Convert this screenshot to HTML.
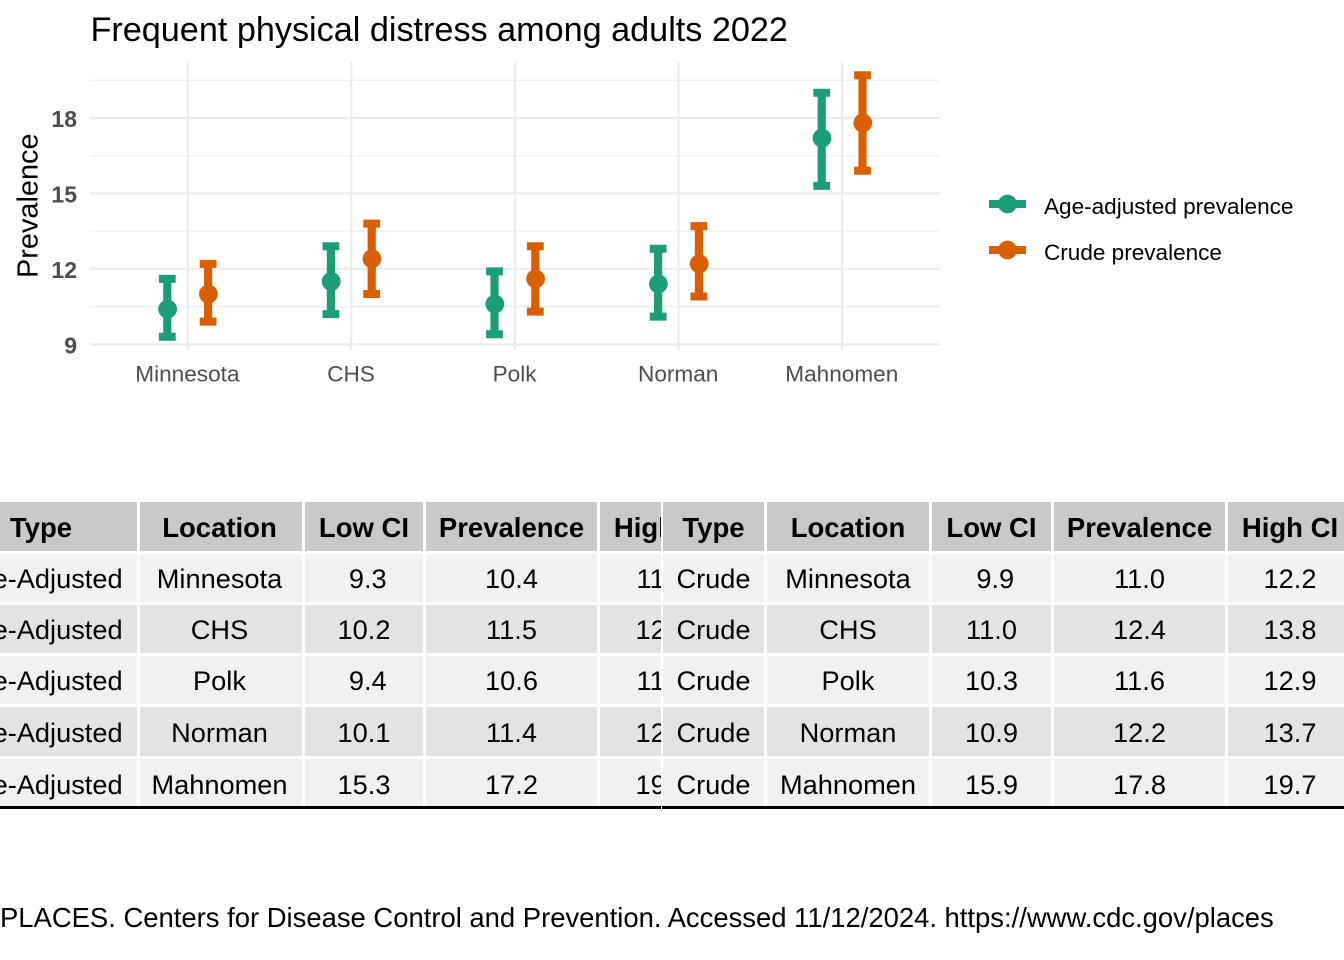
<!DOCTYPE html>
<html lang="en">
<head>
<meta charset="utf-8">
<title>Frequent physical distress among adults 2022</title>
<style>
html,body{margin:0;padding:0;background:#fff;}
body{width:1344px;height:960px;position:relative;overflow:hidden;font-family:"Liberation Sans",sans-serif;}
#chart{position:absolute;left:0;top:0;}
.clip{position:absolute;top:499px;height:307px;overflow:hidden;}
table{position:absolute;top:0;border-collapse:separate;border-spacing:3px;table-layout:fixed;font-size:27.2px;color:#000;}
th,td{padding:2px 0 0 0;text-align:center;white-space:pre;overflow:hidden;line-height:1;}
th{background:#c9c9c9;font-weight:bold;font-size:27.5px;padding-top:3px;}
tr.odd td{background:#f1f1f1;}
tr.even td{background:#e3e3e3;}
tr.h0{height:49px;}tr.h1,tr.h2,tr.h3{height:48px;}tr.h4{height:49px;}tr.h5{height:47px;}
tr.h5 td{padding-top:4px;}
th:nth-child(5),td:nth-child(5){padding-right:2px;}
.left th:nth-child(2),.left td:nth-child(2){padding-right:3px;}
.rule{position:absolute;top:806px;height:3px;background:#000;}
#source{position:absolute;left:0;top:902px;font-size:27.43px;line-height:31px;white-space:nowrap;color:#000;}
</style>
</head>
<body>
<svg id="chart" width="1344" height="460" viewBox="0 0 1344 460" xmlns="http://www.w3.org/2000/svg">
  <text x="90.5" y="41" font-size="34.2" font-family="Liberation Sans, sans-serif" fill="#000">Frequent physical distress among adults 2022</text>
  <text transform="translate(37.5,278) rotate(-90)" font-size="28.9" font-family="Liberation Sans, sans-serif" fill="#000">Prevalence</text>
  <g id="grid"></g>
  <g id="axes"></g>
  <g id="marks"></g>
  <g>
    <g>
      <rect x="989" y="200" width="37" height="8" fill="#1b9e77"></rect>
      <circle cx="1007.5" cy="204" r="9.4" fill="#1b9e77"></circle>
      <text x="1044" y="214" font-size="22.55" font-family="Liberation Sans, sans-serif" fill="#000">Age-adjusted prevalence</text>
    </g>
    <g>
      <rect x="989" y="246" width="37" height="8" fill="#d95f02"></rect>
      <circle cx="1007.5" cy="250" r="9.4" fill="#d95f02"></circle>
      <text x="1044" y="260" font-size="22.55" font-family="Liberation Sans, sans-serif" fill="#000">Crude prevalence</text>
    </g>
  </g>
</svg>

<div class="clip left" style="left:0;width:661px;">
<table style="left:-58px;width:787px;">
<colgroup><col style="width:192px"><col style="width:162px"><col style="width:118px"><col style="width:171px"><col style="width:126px"></colgroup>
<tr class="h0"><th>Type</th><th>Location</th><th>Low CI</th><th>Prevalence</th><th>High CI</th></tr>
<tr class="odd h1"><td>Age-Adjusted</td><td>Minnesota</td><td> 9.3</td><td>10.4</td><td>11.6</td></tr>
<tr class="even h2"><td>Age-Adjusted</td><td>CHS</td><td>10.2</td><td>11.5</td><td>12.9</td></tr>
<tr class="odd h3"><td>Age-Adjusted</td><td>Polk</td><td> 9.4</td><td>10.6</td><td>11.9</td></tr>
<tr class="even h4"><td>Age-Adjusted</td><td>Norman</td><td>10.1</td><td>11.4</td><td>12.8</td></tr>
<tr class="odd h5"><td>Age-Adjusted</td><td>Mahnomen</td><td>15.3</td><td>17.2</td><td>19.0</td></tr>
</table>
</div>

<div class="clip" style="left:662px;width:682px;">
<table style="left:-2px;width:697px;">
<colgroup><col style="width:101px"><col style="width:162px"><col style="width:119px"><col style="width:171px"><col style="width:126px"></colgroup>
<tr class="h0"><th>Type</th><th>Location</th><th>Low CI</th><th>Prevalence</th><th>High CI</th></tr>
<tr class="odd h1"><td>Crude</td><td>Minnesota</td><td> 9.9</td><td>11.0</td><td>12.2</td></tr>
<tr class="even h2"><td>Crude</td><td>CHS</td><td>11.0</td><td>12.4</td><td>13.8</td></tr>
<tr class="odd h3"><td>Crude</td><td>Polk</td><td>10.3</td><td>11.6</td><td>12.9</td></tr>
<tr class="even h4"><td>Crude</td><td>Norman</td><td>10.9</td><td>12.2</td><td>13.7</td></tr>
<tr class="odd h5"><td>Crude</td><td>Mahnomen</td><td>15.9</td><td>17.8</td><td>19.7</td></tr>
</table>
</div>

<div class="rule" style="left:0;width:661px;"></div>
<div class="rule" style="left:662px;width:682px;"></div>

<div id="source">PLACES. Centers for Disease Control and Prevention. Accessed 11/12/2024. https://www.cdc.gov/places</div>

<script>
const categories = ['Minnesota', 'CHS', 'Polk', 'Norman', 'Mahnomen'];
const ageLow = [9.3, 10.2, 9.4, 10.1, 15.3];
const ageValue = [10.4, 11.5, 10.6, 11.4, 17.2];
const ageHigh = [11.6, 12.9, 11.9, 12.8, 19.0];
const crudeLow = [9.9, 11.0, 10.3, 10.9, 15.9];
const crudeValue = [11.0, 12.4, 11.6, 12.2, 17.8];
const crudeHigh = [12.2, 13.8, 12.9, 13.7, 19.7];
const yTicks = [9, 12, 15, 18];
const yMinorTicks = [10.5, 13.5, 16.5, 19.5];

const NS = 'http://www.w3.org/2000/svg';
const FONT = 'Liberation Sans, sans-serif';
const GRID_COLOR = '#ebebeb';
function xScale(i) { return 187.7 + i * 163.6; }
function yScale(v) { return 344.3 - (v - 9) * 25.15; }
function make(tag, attrs, parent, text) {
  const el = document.createElementNS(NS, tag);
  for (const k in attrs) el.setAttribute(k, attrs[k]);
  if (text !== undefined) el.textContent = text;
  parent.appendChild(el);
  return el;
}
const grid = document.getElementById('grid');
const axes = document.getElementById('axes');
const marks = document.getElementById('marks');

yMinorTicks.forEach(function (t) {
  const el = make('line', { x1: 90, x2: 940, y1: yScale(t), y2: yScale(t), stroke: GRID_COLOR, 'stroke-width': 1.1 }, grid);
  
  
});
yTicks.forEach(function (t) {
  const el = make('line', { x1: 90, x2: 940, y1: yScale(t), y2: yScale(t), stroke: GRID_COLOR, 'stroke-width': 2.1 }, grid);
  
  
  const lab = make('text', { x: 77, y: yScale(t) + 9, 'text-anchor': 'end', 'font-size': 23, 'font-weight': 'bold', 'font-family': FONT, fill: '#4d4d4d' }, axes, String(t));
  
  
});
categories.forEach(function (c, i) {
  const el = make('line', { x1: xScale(i), x2: xScale(i), y1: 62, y2: 350, stroke: GRID_COLOR, 'stroke-width': 2.1 }, grid);
  
  
  const lab = make('text', { x: xScale(i) - 0.3, y: 381.5, 'text-anchor': 'middle', 'font-size': 22.6, 'font-family': FONT, fill: '#4d4d4d' }, axes, c);
  
  
});

function drawSeries(low, value, high, offset, color, seriesName) {
  categories.forEach(function (c, i) {
    const x = xScale(i) + offset;
    const g = make('g', {}, marks);
    
    
    const stem = make('line', { x1: x, x2: x, y1: yScale(low[i]), y2: yScale(high[i]), stroke: color, 'stroke-width': 8.2 }, g);
    
    
    [low[i], high[i]].forEach(function (v) {
      const cap = make('line', { x1: x - 8.4, x2: x + 8.4, y1: yScale(v), y2: yScale(v), stroke: color, 'stroke-width': 8 }, g);
      
      
    });
    const pt = make('circle', { cx: x + 0.3, cy: yScale(value[i]), r: 9.4, fill: color }, g);
    
    
  });
}
drawSeries(ageLow, ageValue, ageHigh, -20.4, '#1b9e77', 'age-adjusted');
drawSeries(crudeLow, crudeValue, crudeHigh, 20.4, '#d95f02', 'crude');
</script>
</body>
</html>
